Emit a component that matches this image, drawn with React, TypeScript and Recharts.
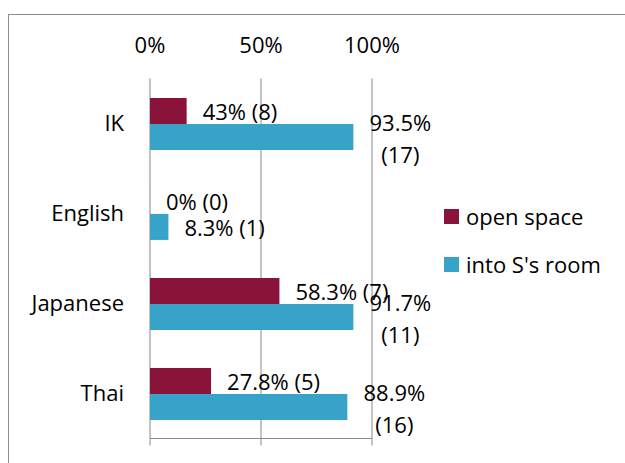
import { Bar, BarChart, CartesianGrid, LabelList, Legend, XAxis, YAxis } from "recharts";

const categories = ["IK", "English", "Japanese", "Thai"];
const openSpace = [16.5, 0, 58.3, 27.5];
const intoRoom = [91.6, 8.3, 91.6, 88.9];
const openLabels = ["43% (8)", "0% (0)", "58.3% (7)", "27.8% (5)"];
const intoLabels = ["93.5%|(17)", "8.3% (1)", "91.7%|(11)", "88.9%|(16)"];
const xTicks = [0, 50, 100];
const bandTicks = [0, 1, 2, 3, 4];

const OPEN = "#891339";
const INTO = "#37a3c8";
const AXIS = "#888888";

const data = categories.map((name, i) => ({
  name,
  open: openSpace[i],
  into: intoRoom[i],
  openLabel: openLabels[i],
  intoLabel: intoLabels[i],
}));

// label text sits 16px past the bar end; "|" splits a wrapped label
const barLabel = (props: any) => {
  const { x, y, width, height, value } = props;
  const lines = String(value).split("|");
  const ex = x + width + 16;
  const cy = y + height / 2;
  if (lines.length === 1) {
    return (
      <text x={ex} y={cy} dominantBaseline="central" fontSize={22} fill="#000">
        {lines[0]}
      </text>
    );
  }
  return (
    <text textAnchor="middle" fontSize={22} fill="#000" dominantBaseline="central">
      <tspan x={ex + 31} y={cy - 15}>{lines[0]}</tspan>
      <tspan x={ex + 31} y={cy + 17}>{lines[1]}</tspan>
    </text>
  );
};

const legendItems = [
  { label: "open space", color: OPEN },
  { label: "into S's room", color: INTO },
];

function LegendBox() {
  return (
    <div>
      {legendItems.map((it) => (
        <div key={it.label} style={{ display: "flex", alignItems: "center", height: 48 }}>
          <span style={{ width: 15, height: 15, background: it.color, marginRight: 7 }} />
          <span style={{ fontSize: 22, lineHeight: 1, color: "#000" }}>{it.label}</span>
        </div>
      ))}
    </div>
  );
}

export default function App() {
  return (
    <div
      style={{
        position: "absolute",
        left: 0,
        top: 0,
        width: 625,
        height: 463,
        overflow: "hidden",
        background: "#fff",
        fontFamily: "'Open Sans', sans-serif",
      }}
    >
      <div
        style={{
          position: "absolute",
          left: 8,
          top: 14,
          width: 660,
          height: 500,
          border: "1.5px solid #8c8c8c",
        }}
      />
      <div style={{ position: "absolute", left: 0, top: 0 }}>
        <BarChart
          width={625}
          height={463}
          data={data}
          layout="vertical"
          margin={{ top: 0, right: 253, bottom: 0, left: 0 }}
          barCategoryGap="21.6%"
          barGap={0}
        >
          <CartesianGrid xAxisId="top" horizontal={false} stroke={AXIS} />
          <XAxis
            xAxisId="top"
            orientation="top"
            type="number"
            domain={[0, 100]}
            ticks={xTicks}
            tickFormatter={(v) => `${v}%`}
            axisLine={false}
            tickLine={false}
            height={78.5}
            tickMargin={20}
            tick={{ fontSize: 22, fill: "#000" }}
          />
          <XAxis
            xAxisId="bot"
            orientation="bottom"
            type="number"
            domain={[0, 100]}
            ticks={xTicks}
            tickFormatter={() => ""}
            axisLine={{ stroke: AXIS }}
            tickLine={{ stroke: AXIS }}
            tickSize={7}
            height={24.5}
            allowDataOverflow
          />
          <YAxis
            yAxisId="band"
            type="number"
            domain={[0, 4]}
            ticks={bandTicks}
            tickFormatter={() => ""}
            axisLine={{ stroke: AXIS }}
            tickLine={{ stroke: AXIS }}
            tickSize={9}
            width={0}
            allowDataOverflow
          />
          <YAxis
            type="category"
            dataKey="name"
            width={150}
            axisLine={false}
            tickLine={false}
            tickSize={0}
            tickMargin={26}
            tick={{ fontSize: 22, fill: "#000" }}
          />
          <Legend
            layout="vertical"
            align="center"
            verticalAlign="middle"
            content={() => <LegendBox />}
            wrapperStyle={{ position: "absolute", left: 444, top: 192, width: "auto" }}
          />
          <Bar
            xAxisId="top"
            dataKey="open"
            name="open space"
            fill={OPEN}
            minPointSize={(v: number) => (v === 0 ? 0.01 : 0)}
            isAnimationActive={false}
          >
            <LabelList dataKey="openLabel" content={barLabel} />
          </Bar>
          <Bar xAxisId="top" dataKey="into" name="into S's room" fill={INTO} isAnimationActive={false}>
            <LabelList dataKey="intoLabel" content={barLabel} />
          </Bar>
        </BarChart>
      </div>
    </div>
  );
}
